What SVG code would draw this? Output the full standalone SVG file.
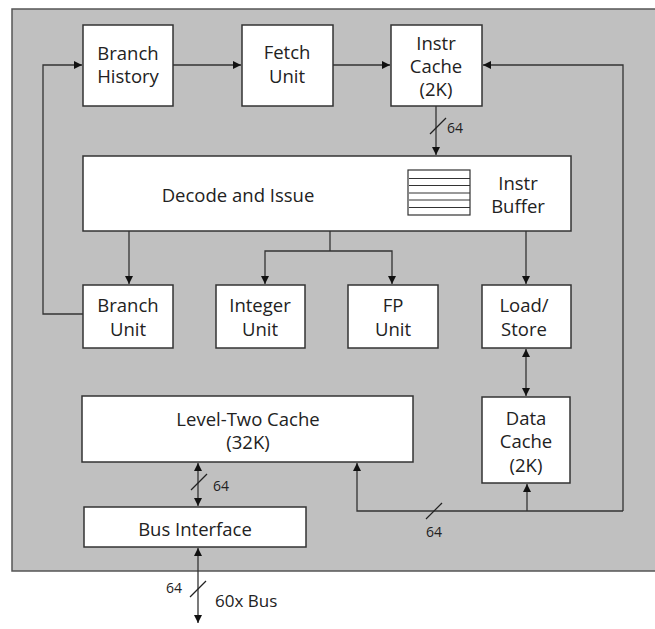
<svg xmlns="http://www.w3.org/2000/svg" width="655" height="629" viewBox="0 0 655 629">
  <defs>
    <marker id="arr" viewBox="0 0 10 10" refX="10" refY="5" markerWidth="8" markerHeight="8" markerUnits="userSpaceOnUse" orient="auto-start-reverse">
      <path d="M0,0 L10,5 L0,10 Z" fill="#111"/>
    </marker>
  </defs>
  <style>
    .box { fill: #fff; stroke: #333; stroke-width: 1.5; }
    .lbl { font-family: "Open Sans", "Noto Sans", sans-serif; font-size: 18.5px; fill: #222; text-anchor: middle; }
    .sm { font-family: "Open Sans", "Noto Sans", sans-serif; font-size: 14px; fill: #222; }
    .bus { font-family: "Open Sans", "Noto Sans", sans-serif; font-size: 17px; fill: #222; }
    .wire { fill: none; stroke: #333; stroke-width: 1.3; }
    .tick { stroke: #222; stroke-width: 1.2; }
  </style>

  <!-- chip boundary -->
  <rect x="12" y="9" width="650" height="562" fill="#c0c0c0" stroke="#555" stroke-width="1.5"/>

  <g id="connectors">
    <!-- front end -->
    <line class="wire" x1="173" y1="65" x2="241" y2="65" marker-end="url(#arr)"/>
    <line class="wire" x1="333" y1="65" x2="390" y2="65" marker-end="url(#arr)"/>
    <polyline class="wire" points="623,511 623,65 483,65" marker-end="url(#arr)"/>
    <line class="wire" x1="436" y1="106" x2="436" y2="155" marker-end="url(#arr)"/>
    <line class="tick" x1="430" y1="134" x2="446" y2="118"/>
    <text class="sm" x="447" y="133">64</text>

    <!-- branch loop -->
    <polyline class="wire" points="83,314 43,314 43,65 82,65" marker-end="url(#arr)"/>

    <!-- issue to units -->
    <line class="wire" x1="129" y1="231" x2="129" y2="284" marker-end="url(#arr)"/>
    <line class="wire" x1="330" y1="231" x2="330" y2="251"/>
    <polyline class="wire" points="265,284 265,251 392,251 392,284" marker-start="url(#arr)" marker-end="url(#arr)"/>
    <line class="wire" x1="526" y1="231" x2="526" y2="284" marker-end="url(#arr)"/>

    <!-- load/store to data cache -->
    <line class="wire" x1="526" y1="349" x2="526" y2="396" marker-start="url(#arr)" marker-end="url(#arr)"/>

    <!-- 64-bit internal bus -->
    <polyline class="wire" points="357,463 357,511 623,511" marker-start="url(#arr)"/>
    <line class="wire" x1="527" y1="511" x2="527" y2="484" marker-end="url(#arr)"/>
    <line class="tick" x1="426" y1="519" x2="442" y2="503"/>
    <text class="sm" x="426" y="537">64</text>

    <!-- L2 to bus interface -->
    <line class="wire" x1="198" y1="463" x2="198" y2="506" marker-start="url(#arr)" marker-end="url(#arr)"/>
    <line class="tick" x1="191" y1="490" x2="207" y2="474"/>
    <text class="sm" x="213" y="491">64</text>

    <!-- external bus -->
    <line class="wire" x1="198" y1="548" x2="198" y2="623" marker-start="url(#arr)" marker-end="url(#arr)"/>
    <line class="tick" x1="190" y1="597" x2="206" y2="581"/>
    <text class="sm" x="166" y="593">64</text>
    <text class="bus" x="215" y="607">60x Bus</text>
  </g>

  <g id="branch-history">
    <rect class="box" x="83" y="25" width="90" height="81"/>
    <text class="lbl" x="128" y="60">Branch</text>
    <text class="lbl" x="128" y="83">History</text>
  </g>
  <g id="fetch-unit">
    <rect class="box" x="242" y="25" width="91" height="81"/>
    <text class="lbl" x="287" y="59">Fetch</text>
    <text class="lbl" x="287" y="83">Unit</text>
  </g>
  <g id="instr-cache">
    <rect class="box" x="391" y="25" width="91" height="81"/>
    <text class="lbl" x="436" y="50">Instr</text>
    <text class="lbl" x="436" y="73">Cache</text>
    <text class="lbl" x="436" y="96">(2K)</text>
  </g>
  <g id="decode-issue">
    <rect class="box" x="83" y="156" width="488" height="75"/>
    <text class="lbl" x="238" y="202">Decode and Issue</text>
    <rect x="408" y="170" width="62" height="45" fill="#fff" stroke="#333" stroke-width="1.2"/>
    <g stroke="#333" stroke-width="1">
      <line x1="409" y1="178.5" x2="470" y2="178.5"/>
      <line x1="409" y1="185.5" x2="470" y2="185.5"/>
      <line x1="409" y1="193" x2="470" y2="193"/>
      <line x1="409" y1="200" x2="470" y2="200"/>
      <line x1="409" y1="207.5" x2="470" y2="207.5"/>
    </g>
    <text class="lbl" x="518" y="190">Instr</text>
    <text class="lbl" x="518" y="213">Buffer</text>
  </g>
  <g id="branch-unit">
    <rect class="box" x="83" y="285" width="90" height="63"/>
    <text class="lbl" x="128" y="312">Branch</text>
    <text class="lbl" x="128" y="336">Unit</text>
  </g>
  <g id="integer-unit">
    <rect class="box" x="216" y="285" width="89" height="63"/>
    <text class="lbl" x="260" y="312">Integer</text>
    <text class="lbl" x="260" y="336">Unit</text>
  </g>
  <g id="fp-unit">
    <rect class="box" x="348" y="285" width="90" height="63"/>
    <text class="lbl" x="393" y="312">FP</text>
    <text class="lbl" x="393" y="336">Unit</text>
  </g>
  <g id="load-store">
    <rect class="box" x="482" y="285" width="89" height="63"/>
    <text class="lbl" x="524" y="312">Load/</text>
    <text class="lbl" x="524" y="336">Store</text>
  </g>
  <g id="data-cache">
    <rect class="box" x="482" y="397" width="88" height="86"/>
    <text class="lbl" x="526" y="425">Data</text>
    <text class="lbl" x="526" y="448">Cache</text>
    <text class="lbl" x="526" y="472">(2K)</text>
  </g>
  <g id="l2-cache">
    <rect class="box" x="82" y="396" width="331" height="66"/>
    <text class="lbl" x="248" y="426">Level-Two Cache</text>
    <text class="lbl" x="248" y="449">(32K)</text>
  </g>
  <g id="bus-interface">
    <rect class="box" x="84" y="507" width="222" height="40"/>
    <text class="lbl" x="195" y="536">Bus Interface</text>
  </g>
</svg>
